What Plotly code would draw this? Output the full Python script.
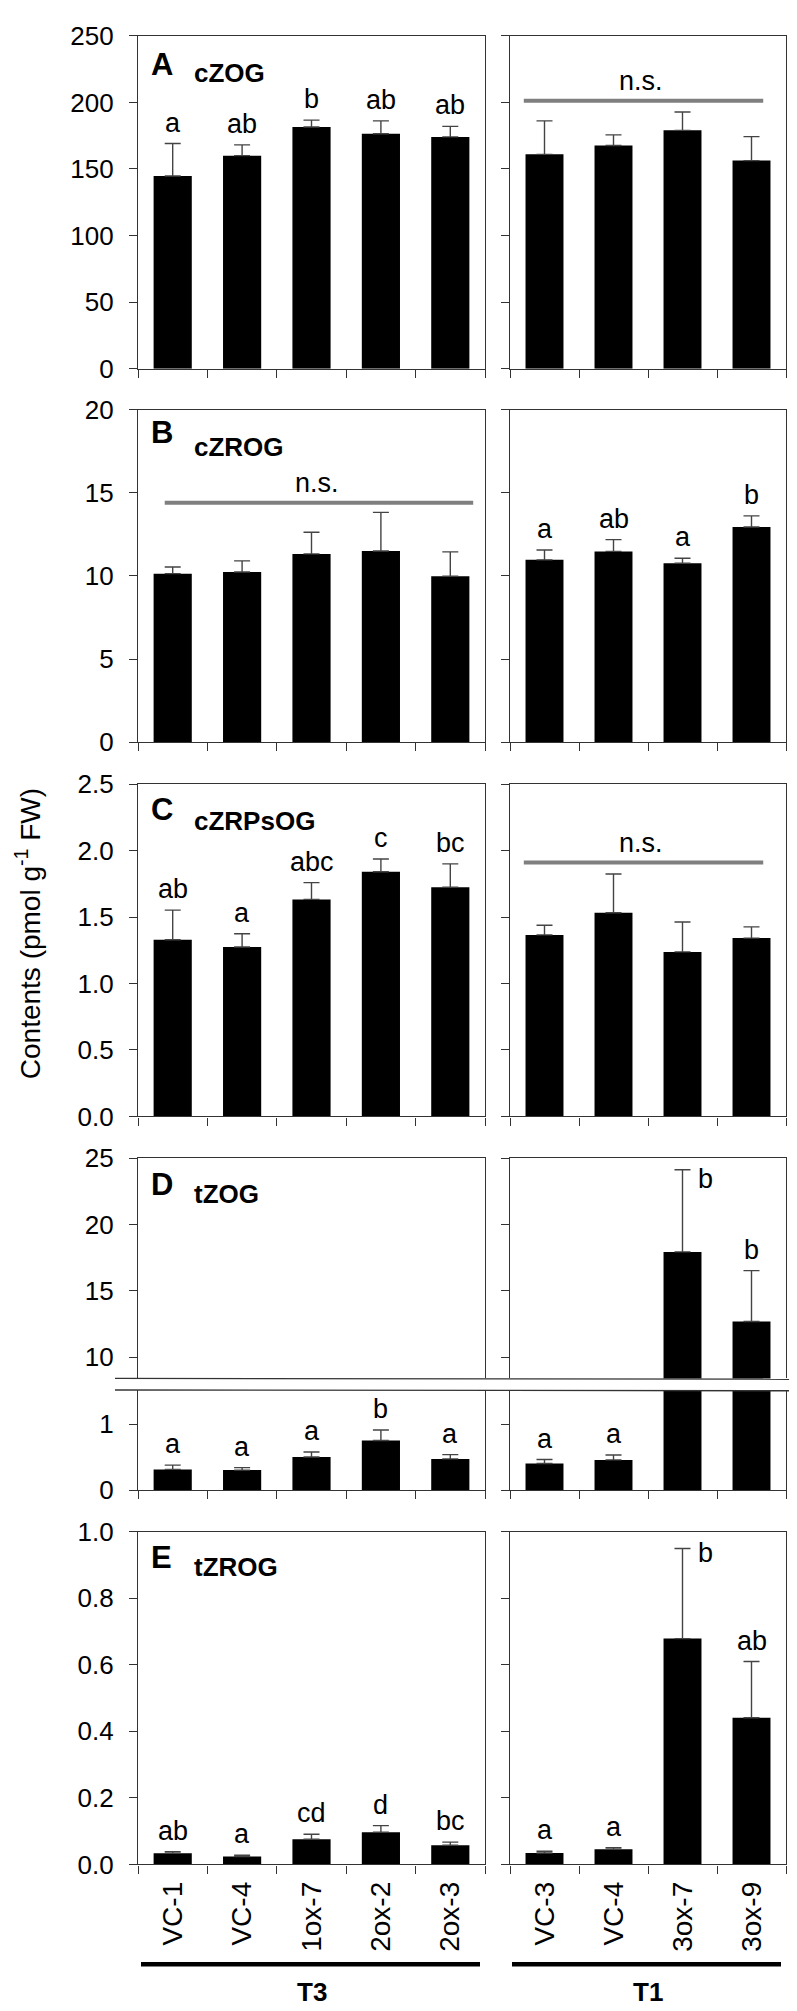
import plotly.graph_objects as go

# ---------------- data ----------------
cats_T3 = ['VC-1', 'VC-4', '1ox-7', '2ox-2', '2ox-3']
cats_T1 = ['VC-3', 'VC-4', '3ox-7', '3ox-9']

A_T3 = [144.7, 160.0, 181.5, 176.5, 174.1]
A_T3_err = [24.4, 8.1, 5.2, 9.6, 7.9]
A_T3_sig = ['a', 'ab', 'b', 'ab', 'ab']
A_T1 = [161.0, 167.6, 179.0, 156.3]
A_T1_err = [25.1, 8.0, 13.8, 18.0]
A_T1_sig = ['', '', '', '']

B_T3 = [10.14, 10.24, 11.33, 11.50, 9.98]
B_T3_err = [0.40, 0.67, 1.30, 2.33, 1.47]
B_T3_sig = ['', '', '', '', '']
B_T1 = [10.97, 11.48, 10.77, 12.95]
B_T1_err = [0.59, 0.71, 0.30, 0.67]
B_T1_sig = ['a', 'ab', 'a', 'b']

C_T3 = [1.329, 1.275, 1.633, 1.841, 1.725]
C_T3_err = [0.223, 0.099, 0.126, 0.096, 0.175]
C_T3_sig = ['ab', 'a', 'abc', 'c', 'bc']
C_T1 = [1.366, 1.532, 1.238, 1.342]
C_T1_err = [0.072, 0.292, 0.225, 0.084]
C_T1_sig = ['', '', '', '']

D_T3 = [0.313, 0.303, 0.500, 0.751, 0.472]
D_T3_err = [0.065, 0.037, 0.076, 0.159, 0.065]
D_T3_sig = ['a', 'a', 'a', 'b', 'a']
D_T1 = [0.403, 0.457, 17.93, 12.69]
D_T1_err = [0.060, 0.074, 6.19, 3.83]
D_T1_sig = ['a', 'a', 'b', 'b']

E_T3 = [0.0335, 0.0237, 0.0758, 0.0966, 0.058]
E_T3_err = [0.005, 0.004, 0.015, 0.020, 0.009]
E_T3_sig = ['ab', 'a', 'cd', 'd', 'bc']
E_T1 = [0.0345, 0.0453, 0.679, 0.441]
E_T1_err = [0.005, 0.005, 0.271, 0.169]
E_T1_sig = ['a', 'a', 'b', 'ab']

panel_letters = ['A', 'B', 'C', 'D', 'E']
panel_names = ['cZOG', 'cZROG', 'cZRPsOG', 'tZOG', 'tZROG']
group_labels = ['T3', 'T1']

# n.s. bars: (panel, side) -> level
ns_levels = {('A', 1): 201.2, ('B', 0): 14.41, ('C', 1): 1.91}

data = {
    ('A', 0): (A_T3, A_T3_err, A_T3_sig), ('A', 1): (A_T1, A_T1_err, A_T1_sig),
    ('B', 0): (B_T3, B_T3_err, B_T3_sig), ('B', 1): (B_T1, B_T1_err, B_T1_sig),
    ('C', 0): (C_T3, C_T3_err, C_T3_sig), ('C', 1): (C_T1, C_T1_err, C_T1_sig),
    ('D', 0): (D_T3, D_T3_err, D_T3_sig), ('D', 1): (D_T1, D_T1_err, D_T1_sig),
    ('E', 0): (E_T3, E_T3_err, E_T3_sig), ('E', 1): (E_T1, E_T1_err, E_T1_sig),
}

# ---------------- layout geometry (px) ----------------
W, H = 797, 2011
FONT = 'Liberation Sans, Arial, sans-serif'
AX = '#333333'
xdom = [(130, 477), (502, 778)]
# row: (panel, top, bottom, range, tickvals, tickformat, part)
rows = [
    ('A', 13.0, 351.0, [0, 250], [0, 50, 100, 150, 200, 250], '', 'full'),
    ('B', 392.7, 730.0, [0, 20], [0, 5, 10, 15, 20], '', 'full'),
    ('C', 772.7, 1110.0, [0, 2.5], [0, 0.5, 1.0, 1.5, 2.0, 2.5], '.1f', 'full'),
    ('D', 1152.3, 1376.0, [8.39, 25], [10, 15, 20, 25], '', 'upper'),
    ('D', 1387.7, 1489.3, [0, 1.516], [0, 1], '', 'lower'),
    ('E', 1531.7, 1869.3, [0, 1.0], [0, 0.2, 0.4, 0.6, 0.8, 1.0], '.1f', 'full'),
]
letter_off = {'A': 29.5, 'B': 23.5, 'C': 25.5, 'D': 26.5, 'E': 26.5}
name_off = {'A': 38.0, 'B': 37.5, 'C': 37.0, 'D': 36.0, 'E': 36.0}

def px_x(p):
    return p / W

def px_y(p):
    return 1 - p / H

def sfx(k):
    return '' if k == 1 else str(k)

fig = go.Figure()
annotations = []
shapes = []
layout = {}

for r, (pan, top, bot, yr, tv, tf, part) in enumerate(rows):
    for s in (0, 1):
        k = 2 * r + s + 1
        cats = cats_T3 if s == 0 else cats_T1
        vals, errs, sigs = data[(pan, s)]
        n = len(cats)
        fig.add_trace(go.Bar(
            x=cats, y=vals, xaxis='x' + sfx(k), yaxis='y' + sfx(k),
            width=0.55, marker=dict(color='black', line=dict(width=0)),
            error_y=dict(type='data', symmetric=False, array=errs,
                         arrayminus=[0] * n, color='#444444',
                         thickness=1.4, width=8),
            showlegend=False, hoverinfo='skip'))
        xa = dict(domain=[px_x(xdom[s][0]), px_x(xdom[s][1])],
                  anchor='y' + sfx(k), type='category',
                  categoryorder='array', categoryarray=cats,
                  range=[-0.5, n - 0.5], showgrid=False, zeroline=False,
                  showline=True, linecolor=AX, linewidth=1.3,
                  ticks='outside', tickson='boundaries', ticklen=8,
                  tickcolor=AX, tickwidth=1.3,
                  showticklabels=(pan == 'E'), tickangle=-90,
                  ticklabelstandoff=5,
                  tickfont=dict(family=FONT, size=28, color='black'),
                  fixedrange=True)
        if part == 'full':
            xa['mirror'] = True
        elif part == 'upper':
            xa.update(side='top', mirror=False, ticks='')
        else:
            xa.update(mirror=False)
        ya = dict(domain=[px_y(bot), px_y(top)], anchor='x' + sfx(k),
                  range=yr, tickvals=tv, tickformat=tf,
                  showgrid=False, zeroline=False, showline=True,
                  linecolor=AX, linewidth=1.3, mirror=True,
                  ticks='outside', ticklen=8, tickcolor=AX, tickwidth=1.3,
                  showticklabels=(s == 0), ticklabelstandoff=10,
                  tickfont=dict(family=FONT, size=26, color='black'),
                  fixedrange=True)
        layout['xaxis' + sfx(k)] = xa
        layout['yaxis' + sfx(k)] = ya

        # significance letters
        for i, lab in enumerate(sigs):
            if not lab:
                continue
            tipv = vals[i] + errs[i]
            if part == 'upper' and tipv < yr[0]:
                continue
            if part == 'lower' and tipv > yr[1]:
                continue
            right_side = (pan in ('D', 'E') and s == 1 and i == 2)
            if right_side:
                annotations.append(dict(
                    x=i, y=tipv, xref='x' + sfx(k), yref='y' + sfx(k),
                    text=lab, showarrow=False, xanchor='left',
                    yanchor='middle', xshift=13,
                    yshift=(-9 if pan == 'D' else -5),
                    font=dict(family=FONT, size=27, color='black')))
            else:
                annotations.append(dict(
                    x=i, y=tipv, xref='x' + sfx(k), yref='y' + sfx(k),
                    text=lab, showarrow=False, xanchor='center',
                    yanchor='bottom', yshift=4,
                    font=dict(family=FONT, size=27, color='black')))

        # n.s. bar
        if (pan, s) in ns_levels and part == 'full':
            lv = ns_levels[(pan, s)]
            if s == 1:
                x0, x1 = -0.30, 3.17
            else:
                x0, x1 = -0.115, 4.33
            shapes.append(dict(type='line', xref='x' + sfx(k),
                               yref='y' + sfx(k), x0=x0, x1=x1, y0=lv, y1=lv,
                               line=dict(color='#7f7f7f', width=4)))
            annotations.append(dict(
                x=(x0 + x1) / 2 - 0.03, y=lv, xref='x' + sfx(k), yref='y' + sfx(k),
                text='n.s.', showarrow=False, xanchor='center',
                yanchor='bottom', yshift=3,
                font=dict(family=FONT, size=27, color='black')))

    # panel letter + name (once per panel)
    if part in ('full', 'upper'):
        idx = panel_letters.index(pan)
        annotations.append(dict(
            x=px_x(141), y=px_y(top + letter_off[pan]), xref='paper', yref='paper',
            text='<b>%s</b>' % pan, showarrow=False, xanchor='left',
            yanchor='middle', font=dict(family=FONT, size=31, color='black')))
        annotations.append(dict(
            x=px_x(184), y=px_y(top + name_off[pan]), xref='paper', yref='paper',
            text='<b>%s</b>' % panel_names[idx], showarrow=False,
            xanchor='left', yanchor='middle',
            font=dict(family=FONT, size=26, color='black')))

# axis break lines in panel D
for yb in (1376.0, 1387.7):
    shapes.append(dict(type='line', xref='paper', yref='paper',
                       x0=px_x(107), x1=px_x(795), y0=px_y(yb), y1=px_y(yb + 0.8),
                       line=dict(color=AX, width=1.3)))

# group lines and labels
for s, (g, (gx0, gx1)) in enumerate(zip(group_labels, [(133, 472), (504, 773)])):
    shapes.append(dict(type='line', xref='paper', yref='paper',
                       x0=px_x(gx0), x1=px_x(gx1), y0=px_y(1970.7), y1=px_y(1970.7),
                       line=dict(color='black', width=4.5)))
    annotations.append(dict(
        x=px_x((xdom[s][0] + xdom[s][1]) / 2), y=px_y(1999), xref='paper',
        yref='paper', text='<b>%s</b>' % g, showarrow=False,
        xanchor='center', yanchor='middle',
        font=dict(family=FONT, size=26, color='black')))

# y-axis title
annotations.append(dict(
    x=px_x(20), y=px_y(925), xref='paper', yref='paper',
    text='Contents (pmol g<sup>-1</sup> FW)', showarrow=False,
    textangle=-90, xanchor='center', yanchor='middle',
    font=dict(family=FONT, size=28, color='black')))

fig.update_layout(
    width=W, height=H, margin=dict(l=0, r=0, t=0, b=0),
    paper_bgcolor='white', plot_bgcolor='white',
    annotations=annotations, shapes=shapes,
    font=dict(family=FONT, color='black'),
    **layout)

fig.write_html('out.html')
